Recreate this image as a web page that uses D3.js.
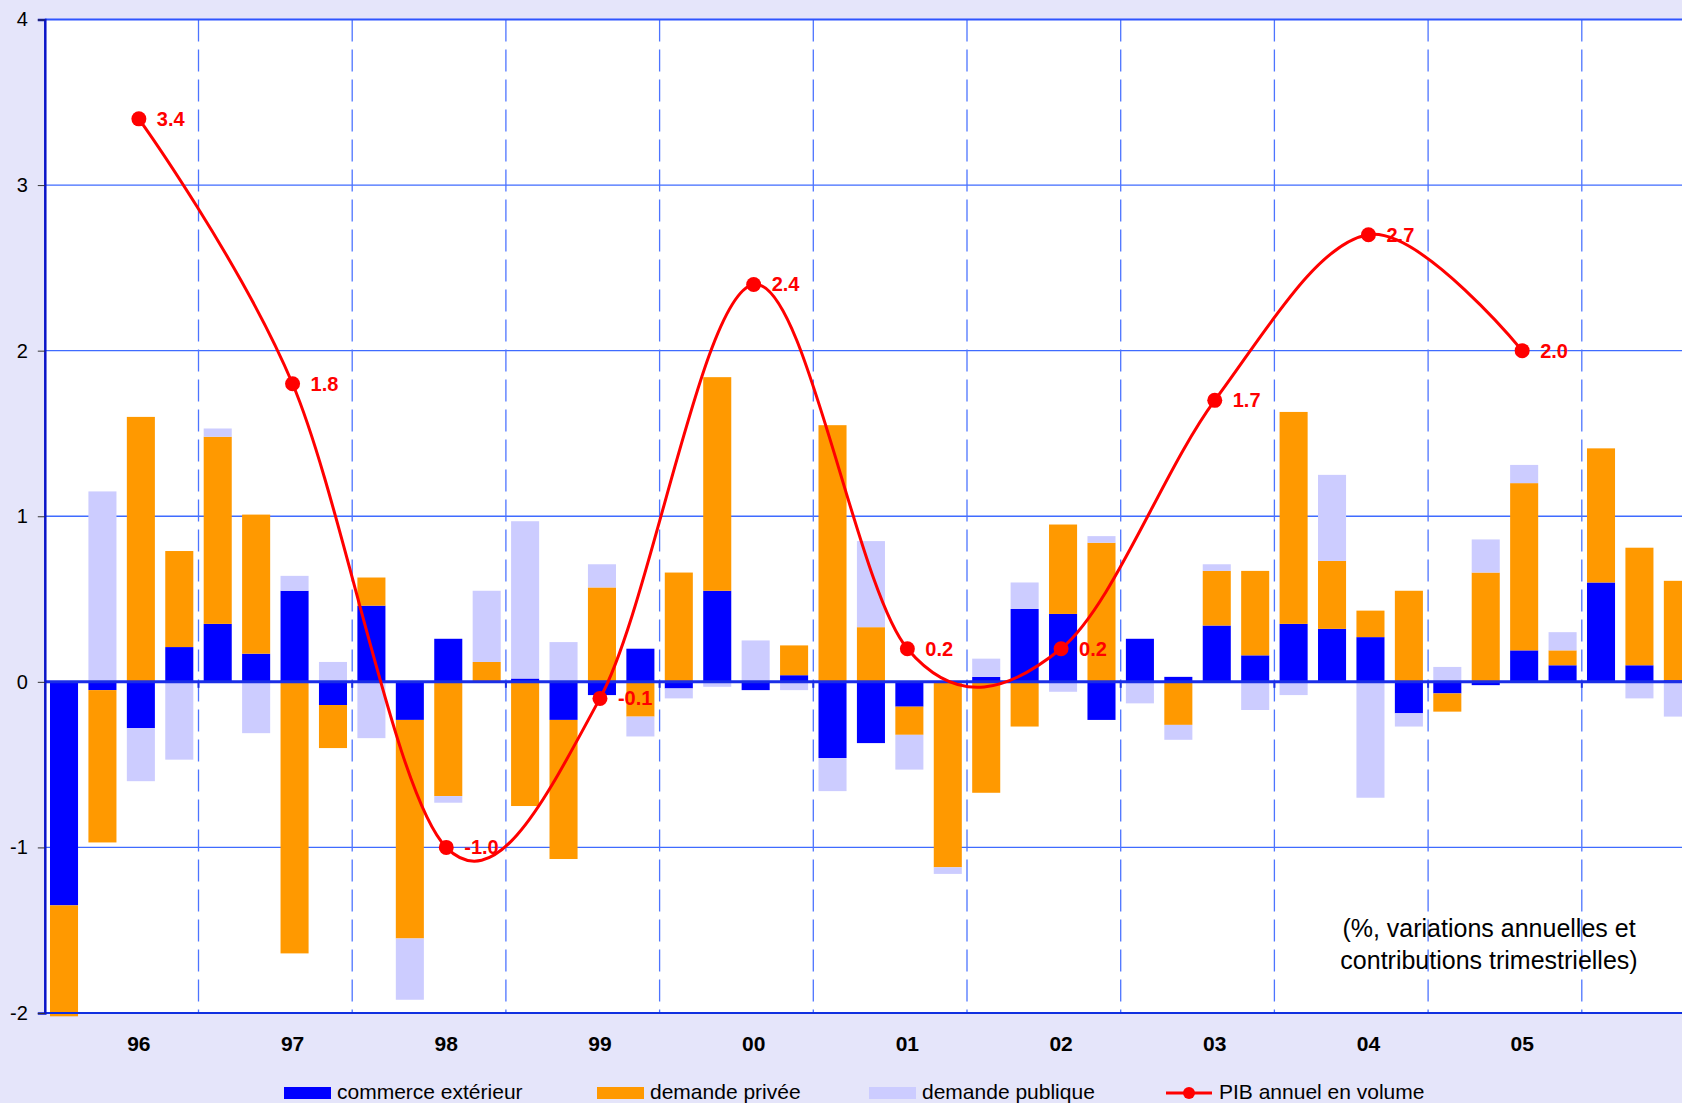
<!DOCTYPE html>
<html>
<head>
<meta charset="utf-8">
<script src="https://cdn.jsdelivr.net/npm/d3@7"></script>
<style>
body { margin: 0; background: #e5e5fa; }
svg { display: block; font-family: "Liberation Sans", Arial, sans-serif; }
</style>
</head>
<body>
<div id="chart"></div>
<script>
// quarters 96T1 .. 06T3
var quarters = [];
['96','97','98','99','00','01','02','03','04','05','06'].forEach(function (y) {
	for (var q = 1; q <= 4; q++) quarters.push(y + 'T' + q);
});
quarters = quarters.slice(0, 43);

var commerce = [-1.35, -0.05, -0.28, 0.21, 0.35, 0.17, 0.55, -0.14, 0.46, -0.23,
	0.26, 0, 0.02, -0.23, -0.08, 0.20, -0.04, 0.55, -0.05, 0.04,
	-0.46, -0.37, -0.15, 0, 0.03, 0.44, 0.41, -0.23, 0.26, 0.03,
	0.34, 0.16, 0.35, 0.32, 0.27, -0.19, -0.07, -0.02, 0.19, 0.10,
	0.60, 0.10, 0.01];
var privee = [-0.67, -0.92, 1.60, 0.58, 1.13, 0.84, -1.64, -0.26, 0.17, -1.32,
	-0.69, 0.12, -0.75, -0.84, 0.57, -0.21, 0.66, 1.29, 0, 0.18,
	1.55, 0.33, -0.17, -1.12, -0.67, -0.27, 0.54, 0.84, 0, -0.26,
	0.33, 0.51, 1.28, 0.41, 0.16, 0.55, -0.11, 0.66, 1.01, 0.09,
	0.81, 0.71, 0.60];
var publique = [0, 1.15, -0.32, -0.47, 0.05, -0.31, 0.09, 0.12, -0.34, -0.37,
	-0.04, 0.43, 0.95, 0.24, 0.14, -0.12, -0.06, -0.03, 0.25, -0.05,
	-0.20, 0.52, -0.21, -0.04, 0.11, 0.16, -0.06, 0.04, -0.13, -0.09,
	0.04, -0.17, -0.08, 0.52, -0.70, -0.08, 0.09, 0.20, 0.11, 0.11,
	0, -0.10, -0.21];

// annual GDP, placed on the third quarter of each year
var pibQuarters = ['96T3','97T3','98T3','99T3','00T3','01T3','02T3','03T3','04T3','05T3'];
var pibValues = [3.4, 1.8, -1.0, -0.1, 2.4, 0.2, 0.2, 1.7, 2.7, 2.0];
var yearLabels = ['96','97','98','99','00','01','02','03','04','05'];
var yTicks = [-2, -1, 0, 1, 2, 3, 4];

var keys = ['commerce', 'privee', 'publique'];
var colors = {commerce: '#0000ff', privee: '#ff9900', publique: '#ccccff'};
var legendNames = ['commerce extérieur', 'demande privée', 'demande publique', 'PIB annuel en volume'];

var W = 1682, H = 1103;
var plotLeft = 44.8, plotTop = 19.5, plotBottom = 1013;
var step = 38.425;

var svg = d3.select('#chart').append('svg')
	.attr('width', W)
	.attr('height', H);

svg.append('rect').attr('width', W).attr('height', H).attr('fill', '#e5e5fa');
svg.append('rect')
	.attr('x', plotLeft).attr('y', plotTop)
	.attr('width', W - plotLeft).attr('height', plotBottom - plotTop)
	.attr('fill', '#fff');

var x = d3.scaleBand()
	.domain(quarters)
	.range([plotLeft, plotLeft + step * quarters.length])
	.paddingInner(0.27)
	.paddingOuter(0.135);

var y = d3.scaleLinear().domain([-2, 4]).range([plotBottom, plotTop]);

// horizontal grid
svg.append('g').selectAll('line')
	.data([-1, 1, 2, 3])
	.join('line')
	.attr('x1', plotLeft).attr('x2', W)
	.attr('y1', function (d) { return y(d); })
	.attr('y2', function (d) { return y(d); })
	.attr('stroke', '#3f6bff')
	.attr('stroke-width', 1.3);

// year separators (dashed)
var yearStarts = quarters.filter(function (q, i) { return i > 0 && q.slice(2) === 'T1'; });
var sepX = function (d) { return x(d) - x.step() * x.paddingInner() / 2; };
svg.append('g').selectAll('line')
	.data(yearStarts)
	.join('line')
	.attr('x1', sepX)
	.attr('x2', sepX)
	.attr('y1', plotTop).attr('y2', plotBottom)
	.attr('stroke', '#4d74ff')
	.attr('stroke-width', 1.3)
	.attr('stroke-dasharray', '22,8');

// stacked bars
var rows = quarters.map(function (q, i) {
	return {q: q, commerce: commerce[i], privee: privee[i], publique: publique[i]};
});
var series = d3.stack().keys(keys).offset(d3.stackOffsetDiverging)(rows);

svg.append('g').selectAll('g')
	.data(series)
	.join('g')
	.attr('fill', function (d) { return colors[d.key]; })
	.selectAll('rect')
	.data(function (d) { return d; })
	.join('rect')
	.attr('x', function (d) { return x(d.data.q); })
	.attr('width', x.bandwidth())
	.attr('y', function (d) { return y(Math.max(d[0], d[1])); })
	.attr('height', function (d) { return Math.abs(y(d[0]) - y(d[1])); });

// axes lines
svg.append('line')
	.attr('x1', plotLeft).attr('x2', W)
	.attr('y1', plotTop).attr('y2', plotTop)
	.attr('stroke', '#2f55ff').attr('stroke-width', 2);
svg.append('line')
	.attr('x1', plotLeft).attr('x2', W)
	.attr('y1', plotBottom).attr('y2', plotBottom)
	.attr('stroke', '#1030e0').attr('stroke-width', 2);
svg.append('line')
	.attr('x1', plotLeft).attr('x2', W)
	.attr('y1', y(0)).attr('y2', y(0))
	.attr('stroke', '#1a2ee6').attr('stroke-width', 3);
svg.append('g').selectAll('line')
	.data(yearStarts)
	.join('line')
	.attr('x1', sepX)
	.attr('x2', sepX)
	.attr('y1', y(0)).attr('y2', y(0) + 6)
	.attr('stroke', '#1a2ee6').attr('stroke-width', 2);

var yAxis = svg.append('g')
	.attr('transform', 'translate(' + plotLeft + ',0)')
	.call(d3.axisLeft(y).tickValues(yTicks).tickSize(7).tickPadding(10)
		.tickFormat(function (d) { return String(d); }));
yAxis.select('.domain').attr('stroke', '#0a14c8').attr('stroke-width', 2.5);
yAxis.selectAll('.tick line').attr('stroke', '#333').attr('stroke-width', 1);
yAxis.selectAll('.tick text')
	.attr('fill', '#000')
	.style('font-size', '20px')
	.style('font-family', '"Liberation Sans", Arial, sans-serif');

// year labels
svg.append('g').selectAll('text')
	.data(yearLabels)
	.join('text')
	.attr('x', function (d, i) { return x(pibQuarters[i]) + x.bandwidth() / 2 - 2; })
	.attr('y', 1051)
	.attr('text-anchor', 'middle')
	.style('font-size', '21px')
	.style('font-weight', 'bold')
	.text(function (d) { return d; });

// annual GDP line
var pib = pibQuarters.map(function (q, i) { return {q: q, v: pibValues[i]}; });
var px = function (d) { return x(d.q) + x.bandwidth() / 2 - 2; };
var line = d3.line()
	.x(px)
	.y(function (d) { return y(d.v); })
	.curve(d3.curveCardinal.tension(0));

svg.append('path')
	.datum(pib)
	.attr('d', line)
	.attr('fill', 'none')
	.attr('stroke', '#ff0000')
	.attr('stroke-width', 3);

svg.append('g').selectAll('circle')
	.data(pib)
	.join('circle')
	.attr('cx', px)
	.attr('cy', function (d) { return y(d.v); })
	.attr('r', 7.5)
	.attr('fill', '#ff0000');

svg.append('g').selectAll('text')
	.data(pib)
	.join('text')
	.attr('x', function (d) { return px(d) + 18; })
	.attr('y', function (d) { return y(d.v) + 7; })
	.attr('fill', '#ff0000')
	.style('font-size', '20px')
	.style('font-weight', 'bold')
	.text(function (d) { return d.v.toFixed(1); });

// note
svg.append('text')
	.attr('text-anchor', 'middle')
	.style('font-size', '25px')
	.selectAll('tspan')
	.data(['(%, variations annuelles et', 'contributions trimestrielles)'])
	.join('tspan')
	.attr('x', 1489)
	.attr('y', function (d, i) { return 937 + i * 32; })
	.text(function (d) { return d; });

// legend
var legendX = [284, 597, 869, 1166];
var lg = svg.append('g').selectAll('g')
	.data(legendNames)
	.join('g')
	.attr('transform', function (d, i) { return 'translate(' + legendX[i] + ',1087)'; });
lg.filter(function (d, i) { return i < 3; })
	.append('rect')
	.attr('width', 47).attr('height', 12)
	.attr('fill', function (d, i) { return colors[keys[i]]; });
var lineItem = lg.filter(function (d, i) { return i === 3; });
lineItem.append('line')
	.attr('x1', 0).attr('x2', 46).attr('y1', 6).attr('y2', 6)
	.attr('stroke', '#ff0000').attr('stroke-width', 3);
lineItem.append('circle')
	.attr('cx', 23).attr('cy', 6).attr('r', 6)
	.attr('fill', '#ff0000');
lg.append('text')
	.attr('x', 53)
	.attr('y', 12)
	.style('font-size', '21px')
	.text(function (d) { return d; });
</script>
</body>
</html>
